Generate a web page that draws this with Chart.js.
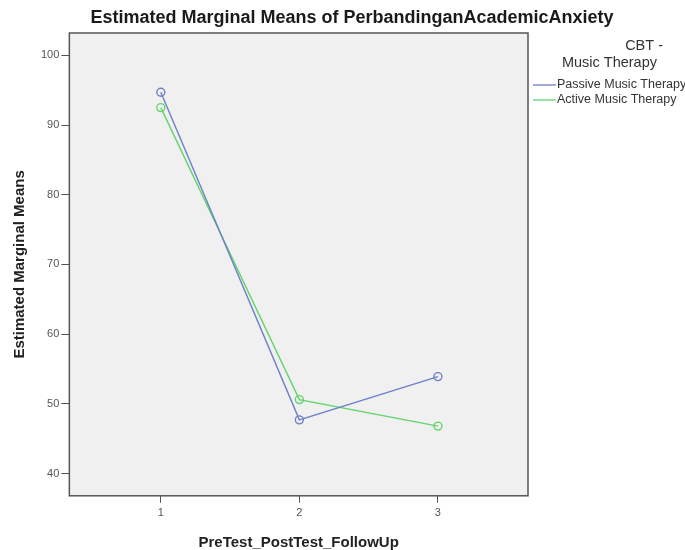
<!DOCTYPE html>
<html>
<head>
<meta charset="utf-8">
<script src="https://cdn.jsdelivr.net/npm/chart.js@4"></script>
<style>
  body { margin: 0; background: #fff; }
</style>
</head>
<body>
<canvas id="emmChart" width="685" height="550"></canvas>
<script>
// values
const xValues = [1, 2, 3];
const passiveMeans = [94.7, 47.7, 53.9];
const activeMeans = [92.5, 50.6, 46.8];
const yTicks = [40, 50, 60, 70, 80, 90, 100];
const seriesLabels = ['Passive Music Therapy', 'Active Music Therapy'];
const legendTitle = ['CBT -', 'Music Therapy'];
const chartTitle = 'Estimated Marginal Means of PerbandinganAcademicAnxiety';

const blue = '#6f7fc9';
const green = '#62d46c';

// grey plot box, title and legend on the right, SPSS style
const boxPlugin = {
  id: 'box',
  beforeDatasetsDraw(chart) {
    const { ctx, chartArea: a } = chart;
    ctx.save();
    ctx.fillStyle = '#f0f0f0';
    ctx.fillRect(a.left, a.top, a.right - a.left, a.bottom - a.top);
    ctx.restore();
  },
  afterDraw(chart) {
    const { ctx, chartArea: a } = chart;
    ctx.save();
    ctx.strokeStyle = '#555';
    ctx.lineWidth = 1.5;
    ctx.strokeRect(a.left, a.top, a.right - a.left, a.bottom - a.top);

    // title, centred a bit right of the canvas middle like the original
    ctx.fillStyle = '#1a1a1a';
    ctx.font = 'bold 18px "Liberation Sans", Arial, sans-serif';
    ctx.textAlign = 'center';
    ctx.textBaseline = 'middle';
    ctx.fillText(chartTitle, 352, 18);

    ctx.fillStyle = '#333';
    ctx.font = '14.5px "Liberation Sans", Arial, sans-serif';
    ctx.textAlign = 'right';
    ctx.fillText(legendTitle[0], 663, 46);
    ctx.fillText(legendTitle[1], 657, 63);

    ctx.font = '12.5px "Liberation Sans", Arial, sans-serif';
    ctx.textAlign = 'left';
    chart.data.datasets.forEach((ds, i) => {
      const y = 85 + i * 15;
      ctx.strokeStyle = ds.borderColor;
      ctx.lineWidth = 1.3;
      ctx.beginPath();
      ctx.moveTo(533, y);
      ctx.lineTo(556, y);
      ctx.stroke();
      ctx.fillStyle = '#333';
      ctx.fillText(ds.label, 557, y);
    });
    ctx.restore();
  }
};

const toPoints = (vals) => vals.map((v, i) => ({ x: xValues[i], y: v }));

new Chart(document.getElementById('emmChart').getContext('2d'), {
  type: 'line',
  data: {
    datasets: [
      {
        label: seriesLabels[0],
        data: toPoints(passiveMeans),
        borderColor: blue,
        borderWidth: 1.4,
        pointRadius: 4,
        pointBorderWidth: 1.4,
        pointBackgroundColor: 'rgba(0,0,0,0)',
        pointBorderColor: blue,
        tension: 0
      },
      {
        label: seriesLabels[1],
        data: toPoints(activeMeans),
        borderColor: green,
        borderWidth: 1.4,
        pointRadius: 4,
        pointBorderWidth: 1.4,
        pointBackgroundColor: 'rgba(0,0,0,0)',
        pointBorderColor: green,
        tension: 0
      }
    ]
  },
  options: {
    responsive: false,
    animation: false,
    layout: { padding: { left: 11, right: 157, top: 33, bottom: -2 } },
    scales: {
      x: {
        type: 'linear',
        min: 0.34,
        max: 3.65,
        afterBuildTicks: (axis) => { axis.ticks = xValues.map(v => ({ value: v })); },
        grid: { drawOnChartArea: false, drawTicks: true, tickLength: 7, color: '#555' },
        border: { display: false },
        ticks: { color: '#555', font: { size: 11, family: '"Liberation Sans", Arial' }, padding: 4 },
        title: {
          display: true,
          text: 'PreTest_PostTest_FollowUp',
          color: '#222',
          font: { size: 15, weight: 'bold', family: '"Liberation Sans", Arial' },
          padding: { top: 10, bottom: 0 }
        }
      },
      y: {
        min: 36.8,
        max: 103.2,
        afterBuildTicks: (axis) => { axis.ticks = yTicks.map(v => ({ value: v })); },
        grid: { drawOnChartArea: false, drawTicks: true, tickLength: 8, color: '#555' },
        border: { display: false },
        ticks: { color: '#555', font: { size: 11, family: '"Liberation Sans", Arial' }, padding: 2 },
        title: {
          display: true,
          text: 'Estimated Marginal Means',
          color: '#222',
          font: { size: 15, weight: 'bold', family: '"Liberation Sans", Arial' },
          padding: { top: 0, bottom: 10 }
        }
      }
    },
    plugins: {
      legend: { display: false },
      tooltip: { enabled: false },
      title: { display: false }
    }
  },
  plugins: [boxPlugin]
});
</script>
</body>
</html>
